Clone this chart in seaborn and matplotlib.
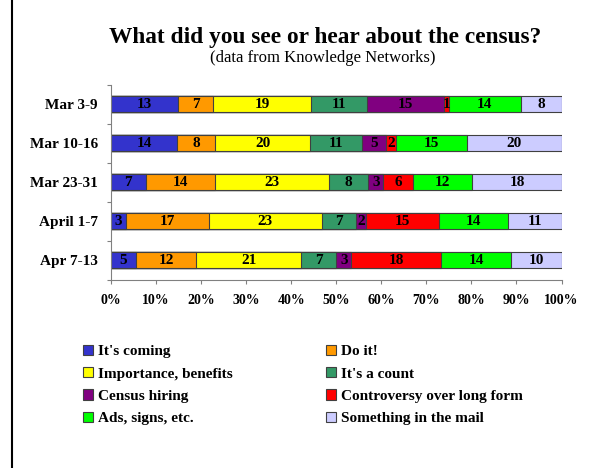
import numpy as np
import pandas as pd
import seaborn as sns
import matplotlib.pyplot as plt
from matplotlib.lines import Line2D
from matplotlib.patches import Patch

weeks = ["Mar 3-9", "Mar 10-16", "Mar 23-31", "April 1-7", "Apr 7-13"]
topics = ["It's coming", "Do it!", "Importance, benefits", "It's a count",
          "Census hiring", "Controversy over long form", "Ads, signs, etc.",
          "Something in the mail"]
colors = ["#3333CC", "#FF9900", "#FFFF00", "#339966",
          "#800080", "#FF0000", "#00FF00", "#CCCCFF"]

# percent mentioning each topic, per week
its_coming = [13, 14, 7, 3, 5]
do_it = [7, 8, 14, 17, 12]
importance = [19, 20, 23, 23, 21]
its_a_count = [11, 11, 8, 7, 7]
hiring = [15, 5, 3, 2, 3]
long_form = [1, 2, 6, 15, 18]
ads = [14, 15, 12, 14, 14]
mail = [8, 20, 18, 11, 10]

df = pd.DataFrame(dict(zip(topics, [its_coming, do_it, importance, its_a_count,
                                    hiring, long_form, ads, mail])), index=weeks)
share = df.div(df.sum(axis=1), axis=0) * 100
cum = share.cumsum(axis=1)

sns.set_theme(style="white")
plt.rcParams['font.family'] = ['Liberation Serif', 'DejaVu Serif']
plt.rcParams['text.color'] = 'black'
plt.rcParams['xtick.labelcolor'] = 'black'
plt.rcParams['ytick.labelcolor'] = 'black'

fig = plt.figure(figsize=(6.07, 4.68), dpi=100)
ax = fig.add_axes([111 / 607, 1 - 280 / 468, 450.5 / 607, 195.3 / 468])

plot_df = cum.reset_index().rename(columns={'index': 'week'})
for topic, color in reversed(list(zip(topics, colors))):
    sns.barplot(data=plot_df, x=topic, y='week', orient='h', color=color,
                saturation=1, width=0.41, edgecolor='#404040', linewidth=0.8, ax=ax)

for i, week in enumerate(weeks):
    for topic in topics:
        xc = cum.loc[week, topic] - share.loc[week, topic] / 2
        ax.text(xc, i, str(df.loc[week, topic]), ha='center', va='center',
                fontsize=11, fontweight='bold', color='black')

ax.set_xlim(0, 100)
ax.set_ylim(4.5, -0.5)
ax.set_xlabel("")
ax.set_ylabel("")
ax.set_xticks(np.arange(0, 101, 10))
ax.set_xticklabels([f"{v}%" for v in range(0, 101, 10)], fontsize=10, fontweight='bold')
ax.set_yticks(range(len(weeks)))
ax.set_yticklabels(weeks, fontsize=11, fontweight='bold')
ax.set_yticks(np.arange(-0.5, len(weeks), 1), minor=True)
ax.tick_params(axis='y', which='major', length=0, pad=9.5)
ax.tick_params(axis='y', which='minor', left=True, length=3, width=0.8, color='#808080', direction='out')
ax.tick_params(axis='x', which='major', bottom=True, length=3, width=0.8, color='#808080', direction='out', pad=7)
for side in ['top', 'right']:
    ax.spines[side].set_visible(False)
for side in ['left', 'bottom']:
    ax.spines[side].set_color('#808080')
    ax.spines[side].set_linewidth(0.8)

fig.text(0.535, 1 - 37 / 468, "What did you see or hear about the census?",
         ha='center', va='center', fontsize=16.8, fontweight='bold')
fig.text(0.532, 1 - 58 / 468, "(data from Knowledge Networks)",
         ha='center', va='center', fontsize=12)

handles = [Patch(facecolor=c, edgecolor='#404040', linewidth=0.8) for c in colors]
for col, x0 in enumerate([83, 326]):
    idx = [col, col + 2, col + 4, col + 6]
    fig.legend([handles[k] for k in idx], [topics[k] for k in idx],
               loc='upper left', bbox_to_anchor=(x0 / 607, 1 - 345 / 468),
               frameon=False, borderpad=0, borderaxespad=0,
               handlelength=0.65, handleheight=0.65, handletextpad=0.3,
               labelspacing=0.57, prop={'size': 11, 'weight': 'bold'})

fig.add_artist(Line2D([12 / 607, 12 / 607], [0, 1], color='black', lw=1.5,
                      transform=fig.transFigure))

fig.savefig("out.png", dpi=100)
